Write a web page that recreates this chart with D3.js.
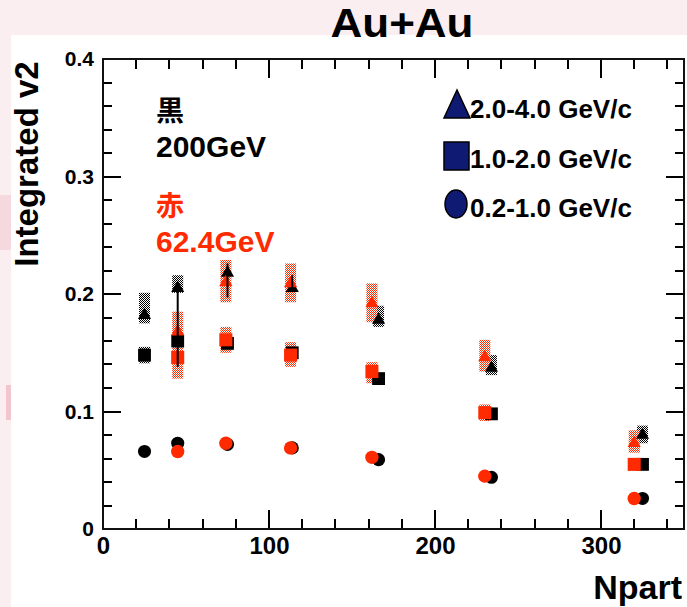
<!DOCTYPE html>
<html>
<head>
<meta charset="utf-8">
<script src="https://cdn.jsdelivr.net/npm/d3@7"></script>
<style>
  body { margin: 0; background: #fbeff1; }
  svg { display: block; font-family: "Liberation Sans", Arial, sans-serif; font-weight: bold; }
</style>
</head>
<body>
<div id="chart"></div>
<script>
// 200 GeV (black)
const npart200 = [25, 45, 75, 114, 166, 234, 325];
const tri200 = [0.182, 0.205, 0.218, 0.205, 0.178, 0.137, 0.080];
const sq200 = [0.148, 0.160, 0.158, 0.150, 0.128, 0.098, 0.055];
const cir200 = [0.066, 0.073, 0.072, 0.069, 0.059, 0.044, 0.026];
const tri200Sys = [[0.175, 0.201], [0.201, 0.216], [0.218, 0.218], [0.205, 0.205], [0.172, 0.190], [0.131, 0.148], [0.073, 0.088]];
const sq200Sys = [[0.141, 0.155], [0.154, 0.167], [0.158, 0.158], [0.150, 0.150], [0.128, 0.128], [0.098, 0.098], [0.055, 0.055]];
const tri200Stat = [[0.182, 0.182], [0.138, 0.210], [0.197, 0.226], [0.202, 0.216], [0.178, 0.178], [0.137, 0.137], [0.080, 0.080]];

// 62.4 GeV (red)
const npart62 = [45, 74, 113, 162, 230, 320];
const tri62 = [0.168, 0.210, 0.209, 0.192, 0.146, 0.073];
const sq62 = [0.146, 0.161, 0.148, 0.134, 0.099, 0.055];
const cir62 = [0.066, 0.073, 0.069, 0.061, 0.045, 0.026];
const tri62Sys = [[0.128, 0.185], [0.193, 0.229], [0.193, 0.226], [0.176, 0.209], [0.134, 0.161], [0.065, 0.084]];
const sq62Sys = [[0.146, 0.146], [0.150, 0.172], [0.138, 0.159], [0.124, 0.142], [0.092, 0.106], [0.055, 0.055]];

const legendLabels = ["2.0-4.0 GeV/c", "1.0-2.0 GeV/c", "0.2-1.0 GeV/c"];
const yMajor = [0, 0.1, 0.2, 0.3, 0.4];
const yMinor = d3.range(0, 0.4001, 0.02);
const xMajor = [0, 100, 200, 300];
const xMinor = d3.range(0, 351, 20);

const width = 687, height = 607;
const margin = {top: 59, left: 103, right: 3, bottom: 78};
const plotW = width - margin.left - margin.right;
const plotH = height - margin.top - margin.bottom;
const red = "#ff2a00";
const navy = "#0f1a73";

const svg = d3.select("#chart").append("svg")
    .attr("width", width)
    .attr("height", height);

// slide background
svg.append("rect").attr("width", width).attr("height", height).attr("fill", "#fbeef1");
svg.append("rect").attr("x", 0).attr("y", 195).attr("width", 11).attr("height", 55).attr("fill", "#f6d9df");
svg.append("rect").attr("x", 6).attr("y", 385).attr("width", 5).attr("height", 35).attr("fill", "#f2c6cf");
svg.append("rect").attr("x", 11).attr("y", 35).attr("width", width - 11).attr("height", height - 35).attr("fill", "#fff");

// dotted fill for systematic boxes
const defs = svg.append("defs");
[["dotBlack", "#000"], ["dotRed", red]].forEach(([id, c]) => {
    let p = defs.append("pattern").attr("id", id)
        .attr("width", 2).attr("height", 2)
        .attr("patternUnits", "userSpaceOnUse");
    p.append("rect").attr("width", 1).attr("height", 1).attr("fill", c);
    p.append("rect").attr("x", 1).attr("y", 1).attr("width", 1).attr("height", 1).attr("fill", c);
});

const x = d3.scaleLinear().domain([0, 350]).range([0, plotW]);
const y = d3.scaleLinear().domain([0, 0.4]).range([plotH, 0]);

const focus = svg.append("g")
    .attr("transform", "translate(" + margin.left + "," + margin.top + ")");

// title
svg.append("text")
    .attr("x", 402).attr("y", 37)
    .attr("text-anchor", "middle")
    .attr("font-size", 40)
    .attr("transform", "translate(402,0) scale(1.1,1) translate(-402,0)")
    .text("Au+Au");

// ticks, all pointing inward
function tickLines(vals, scale, len, side) {
    focus.append("g").selectAll("line")
        .data(vals)
        .join("line")
        .attr("stroke", "#000")
        .attr("stroke-width", 2)
        .attr("shape-rendering", "crispEdges")
        .each(function (d) {
            let l = d3.select(this), p = Math.round(scale(d));
            if (side === "left") l.attr("x1", 0).attr("x2", len).attr("y1", p).attr("y2", p);
            if (side === "right") l.attr("x1", plotW).attr("x2", plotW - len).attr("y1", p).attr("y2", p);
            if (side === "bottom") l.attr("x1", p).attr("x2", p).attr("y1", plotH).attr("y2", plotH - len);
            if (side === "top") l.attr("x1", p).attr("x2", p).attr("y1", 0).attr("y2", len);
        });
}
tickLines(yMinor, y, 9, "left");
tickLines(yMajor, y, 18, "left");
tickLines(yMinor, y, 9, "right");
tickLines(yMajor, y, 18, "right");
tickLines(xMinor, x, 10, "bottom");
tickLines(xMajor, x, 19, "bottom");
tickLines(xMinor, x, 10, "top");
tickLines(xMajor, x, 19, "top");

// tick labels via the axis generators
focus.append("g")
    .call(d3.axisLeft(y).tickValues(yMajor).tickSize(0).tickPadding(9)
        .tickFormat(d => d === 0 ? "0" : d3.format(".1f")(d)))
    .call(g => g.select(".domain").remove())
    .selectAll("text")
    .attr("font-size", 21)
    .attr("font-weight", "bold")
    .attr("font-family", "Liberation Sans, Arial, sans-serif")
    .attr("fill", "#000");
focus.append("g")
    .attr("transform", "translate(0," + plotH + ")")
    .call(d3.axisBottom(x).tickValues(xMajor).tickSize(0).tickPadding(8).tickFormat(d3.format("d")))
    .call(g => g.select(".domain").remove())
    .selectAll("text")
    .attr("font-size", 24)
    .attr("font-weight", "bold")
    .attr("font-family", "Liberation Sans, Arial, sans-serif")
    .attr("fill", "#000");

focus.append("rect")
    .attr("width", plotW).attr("height", plotH)
    .attr("fill", "none").attr("stroke", "#111").attr("stroke-width", 2);

// axis titles
svg.append("text")
    .attr("transform", "translate(38,164) rotate(-90)")
    .attr("text-anchor", "middle")
    .attr("font-size", 33)
    .text("Integrated v2");
svg.append("text")
    .attr("x", 682).attr("y", 599)
    .attr("text-anchor", "end")
    .attr("font-size", 34)
    .text("Npart");

// energy notes
const note = svg.append("g").attr("font-family", "'Noto Sans CJK JP', sans-serif").attr("font-weight", "bold");
note.append("text").attr("x", 156).attr("y", 121).attr("font-size", 28).text("黒");
svg.append("text").attr("x", 156).attr("y", 157).attr("font-size", 30).text("200GeV");
note.append("text").attr("x", 156).attr("y", 216).attr("font-size", 28).attr("fill", red).text("赤");
svg.append("text").attr("x", 156).attr("y", 252).attr("font-size", 30).attr("fill", red).text("62.4GeV");

// data
const plot = focus.append("g").attr("id", "plot");
const boxW = 11;

function sysBoxes(xs, sys, pat) {
    plot.append("g").selectAll("rect")
        .data(xs.map((d, i) => ({n: d, lo: sys[i][0], hi: sys[i][1]})).filter(d => d.hi > d.lo))
        .join("rect")
        .attr("x", d => x(d.n) - boxW / 2)
        .attr("y", d => y(d.hi))
        .attr("width", boxW)
        .attr("height", d => y(d.lo) - y(d.hi))
        .attr("fill", "url(#" + pat + ")");
}
function markers(xs, vals, type, size, color) {
    plot.append("g").selectAll("path")
        .data(xs.map((d, i) => ({n: d, v: vals[i]})))
        .join("path")
        .attr("transform", d => "translate(" + x(d.n) + "," + y(d.v) + ")")
        .attr("d", d3.symbol().type(type).size(size))
        .attr("fill", color);
}

sysBoxes(npart200, tri200Sys, "dotBlack");
sysBoxes(npart200, sq200Sys, "dotBlack");
sysBoxes(npart62, tri62Sys, "dotRed");
sysBoxes(npart62, sq62Sys, "dotRed");

markers(npart200, tri200, d3.symbolTriangle, 75, "#000");
markers(npart200, sq200, d3.symbolSquare, 165, "#000");
markers(npart200, cir200, d3.symbolCircle, 135, "#000");
markers(npart62, tri62, d3.symbolTriangle, 75, red);
markers(npart62, sq62, d3.symbolSquare, 170, red);
markers(npart62, cir62, d3.symbolCircle, 140, red);

// stat error bars of the 200 GeV triangles
plot.append("g").selectAll("line")
    .data(npart200.map((d, i) => ({n: d, lo: tri200Stat[i][0], hi: tri200Stat[i][1]})).filter(d => d.hi > d.lo))
    .join("line")
    .attr("x1", d => x(d.n)).attr("x2", d => x(d.n))
    .attr("y1", d => y(d.lo)).attr("y2", d => y(d.hi))
    .attr("stroke", "#000").attr("stroke-width", 2);

// legend
const legend = svg.append("g").attr("transform", "translate(444,0)");
const legendY = [118, 168, 217];
const shapes = [
    "M13,-28 L26,0 L0,0 Z",
    "M0,-26 H25 V2 H0 Z",
    null
];
legendLabels.forEach((label, i) => {
    let row = legend.append("g").attr("transform", "translate(0," + legendY[i] + ")");
    if (shapes[i]) {
        row.append("path").attr("d", shapes[i])
            .attr("fill", navy).attr("stroke", "#000").attr("stroke-width", 1.5);
    } else {
        row.append("ellipse").attr("cx", 12).attr("cy", -13).attr("rx", 11).attr("ry", 14)
            .attr("fill", navy).attr("stroke", "#000").attr("stroke-width", 1.5);
    }
    row.append("text").attr("x", 26).attr("y", 0)
        .attr("font-size", 26)
        .text(label);
});
</script>
</body>
</html>
